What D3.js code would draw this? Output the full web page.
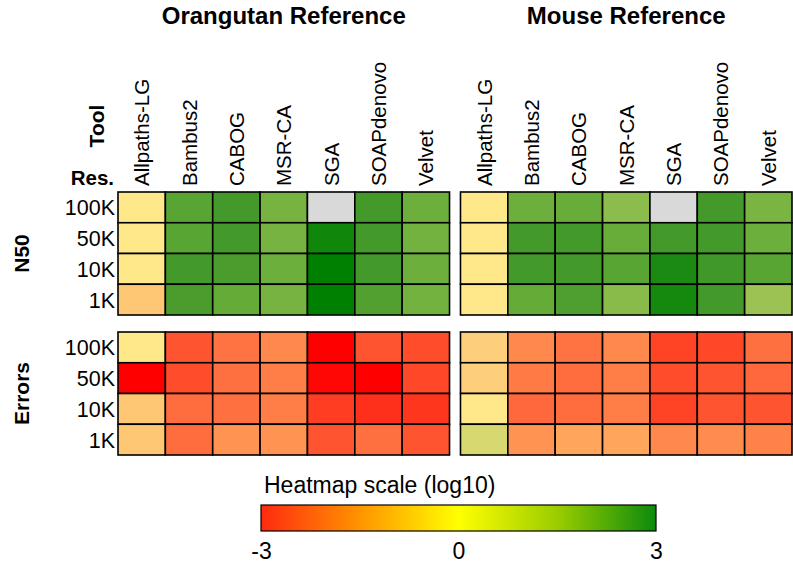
<!DOCTYPE html>
<html><head><meta charset="utf-8">
<script src="https://cdn.jsdelivr.net/npm/d3@7"></script>
<style>body{margin:0;background:#fff}svg{display:block;font-family:"Liberation Sans",Arial,sans-serif}</style>
</head><body><svg id="c" width="793" height="566"></svg>
<script>
const tools = ["Allpaths-LG","Bambus2","CABOG","MSR-CA","SGA","SOAPdenovo","Velvet"];
const resolutions = ["100K","50K","10K","1K"];
const panels = ["Orangutan Reference","Mouse Reference"];
const metrics = ["N50","Errors"];
// log10 values, per tool, rows in order 100K,50K,10K,1K (null = missing)
const orangutanN50 = [[0,0,0,-0.6],[1.7,1.7,2.0,1.9],[2.0,2.0,1.9,1.55],[1.3,1.3,1.45,1.3],[null,2.7,3.0,3.0],[2.0,2.0,2.0,1.8],[1.45,1.35,1.45,1.35]];
const mouseN50 = [[0,0,0,0],[1.45,2.0,2.0,1.55],[1.5,2.0,2.0,1.85],[1.0,1.5,1.7,1.05],[null,2.0,2.5,2.6],[2.0,2.0,2.05,2.0],[1.25,1.45,1.7,0.9]];
const orangutanErrors = [[0,-3,-0.6,-0.6],[-2.3,-2.4,-2.0,-2.0],[-1.9,-1.95,-1.95,-1.45],[-1.6,-1.75,-1.75,-1.45],[-3,-2.95,-2.55,-2.3],[-2.3,-3,-2.65,-1.95],[-2.4,-2.45,-2.6,-2.3]];
const mouseErrors = [[-0.45,-0.45,0,0.5],[-1.6,-1.8,-2.05,-1.45],[-1.9,-2.0,-2.0,-1.2],[-1.6,-1.75,-1.75,-1.2],[-2.5,-2.4,-2.5,-1.6],[-2.45,-2.3,-2.3,-1.55],[-1.95,-2.05,-2.3,-1.7]];
const scaleTicks = [-3,0,3];

const data = {"Orangutan Reference":{N50:orangutanN50,Errors:orangutanErrors},"Mouse Reference":{N50:mouseN50,Errors:mouseErrors}};

const svg = d3.select("#c");
const cellColor = d3.scaleLinear()
  .domain([-3,-2.5,-2,-1.5,-1,-0.5,0,0.5,1,1.5,2,2.5,3])
  .range(["#ff0000","#ff4426","#ff6c3e","#ff9050","#ffb464","#fdcc78","#ffe88a","#d8d870","#8cbc4c","#68ad3a","#43992a","#1a8a12","#008000"])
  .clamp(true);
const barColor = d3.scaleLinear().domain([-3,-1.5,0,1.5,3])
  .range(["#ff2a10","#ff9400","#ffff00","#9acd00","#0c8a0c"]);

const panelX = d3.scaleBand().domain(panels).range([118,792]).paddingInner(0.032);
const colX = {};
panels.forEach(p=>{ colX[p] = d3.scaleBand().domain(tools).range([panelX(p), panelX(p)+panelX.bandwidth()]); });
const blockY = {N50:[192,315], Errors:[332,455]};
const rowY = {};
metrics.forEach(m=>{ rowY[m] = d3.scaleBand().domain(resolutions).range(blockY[m]); });

// titles
panels.forEach(p=>{
  svg.append("text").attr("x", panelX(p)+panelX.bandwidth()/2).attr("y",24)
    .attr("text-anchor","middle").attr("font-weight","bold").attr("font-size",24).text(p);
  tools.forEach(t=>{
    const cx = colX[p](t)+colX[p].bandwidth()/2;
    svg.append("text").attr("transform",`translate(${cx+7.5},186) rotate(-90)`)
      .attr("font-size",20.5).text(t);
  });
  metrics.forEach(m=>{
    const g = svg.append("g");
    tools.forEach((t,ti)=>{
      resolutions.forEach((r,ri)=>{
        const v = data[p][m][ti][ri];
        g.append("rect").attr("x",colX[p](t)).attr("y",rowY[m](r))
          .attr("width",colX[p].bandwidth()).attr("height",rowY[m].bandwidth())
          .attr("fill", v==null ? "#d9d9d9" : cellColor(v))
          .attr("stroke","#000").attr("stroke-width",1.6);
      });
    });
  });
});

// row labels
metrics.forEach(m=>{
  resolutions.forEach(r=>{
    svg.append("text").attr("x",115).attr("y",rowY[m](r)+rowY[m].bandwidth()/2+8)
      .attr("text-anchor","end").attr("font-size",21.5).text(r);
  });
  const cy = (blockY[m][0]+blockY[m][1])/2;
  svg.append("text").attr("transform",`translate(29,${cy}) rotate(-90)`)
    .attr("text-anchor","middle").attr("font-weight","bold").attr("font-size",21).text(m);
});
svg.append("text").attr("transform","translate(104,126) rotate(-90)")
  .attr("text-anchor","middle").attr("font-weight","bold").attr("font-size",21).text("Tool");
svg.append("text").attr("x",114).attr("y",185).attr("text-anchor","end")
  .attr("font-weight","bold").attr("font-size",20.5).text("Res.");

// color bar
const bx = d3.scaleLinear().domain([-3,3]).range([261,656]);
const defs = svg.append("defs");
const grad = defs.append("linearGradient").attr("id","hg").attr("x1","0%").attr("x2","100%");
barColor.domain().forEach(d=>{
  grad.append("stop").attr("offset", ((d+3)/6*100)+"%").attr("stop-color", barColor(d));
});
svg.append("rect").attr("x",bx(-3)).attr("y",505).attr("width",bx(3)-bx(-3)).attr("height",26)
  .attr("fill","url(#hg)").attr("stroke","#000").attr("stroke-width",1.2);
svg.append("text").attr("x",264).attr("y",493).attr("font-size",23).text("Heatmap scale (log10)");
const ax = svg.append("g").attr("transform","translate(0,531)")
  .call(d3.axisBottom(bx).tickValues(scaleTicks).tickSize(0).tickPadding(8).tickFormat(d=>String(d)));
ax.select(".domain").remove();
ax.selectAll("text").attr("font-size",23).attr("font-family","Liberation Sans, Arial, sans-serif").attr("fill","#000").attr("dy","0.85em");
</script></body></html>
